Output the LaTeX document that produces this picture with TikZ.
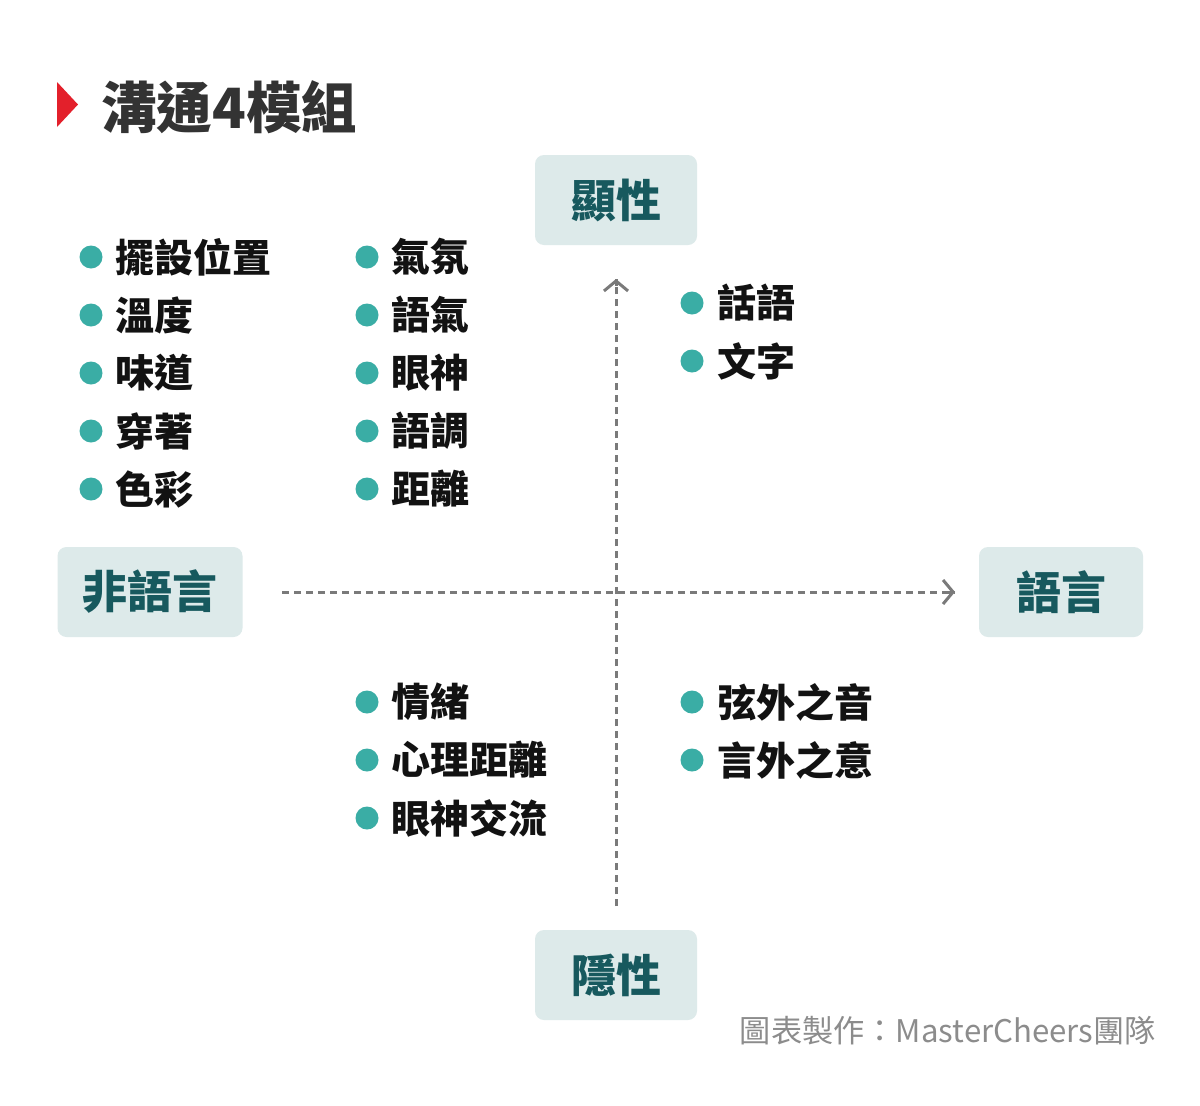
\documentclass[tikz,border=0pt]{standalone}
\usepackage{fontspec}
\setmainfont{Noto Sans CJK TC}
\usetikzlibrary{arrows.meta,calc}
\definecolor{boxfill}{HTML}{DDEAEA}
\definecolor{boxtext}{HTML}{17595E}
\definecolor{dotc}{HTML}{3AADA5}
\definecolor{axisc}{HTML}{7A7A7A}
\definecolor{titlec}{HTML}{333333}
\definecolor{creditc}{HTML}{8C8C8C}
\definecolor{redc}{HTML}{E3202B}
\tikzset{
  axisbox/.style={fill=boxfill, rounded corners=9pt, minimum width=162pt, minimum height=90pt, inner sep=0pt,
     text=boxtext, font=\fontsize{45}{50}\selectfont\bfseries},
  itemtxt/.style={anchor=west, inner sep=0pt, text=black!93, font=\fontsize{39}{44}\selectfont\bfseries},
  dot/.style={circle, fill=dotc, minimum size=23pt, inner sep=0pt},
  axisline/.style={draw=axisc, line width=3pt, dash pattern=on 7pt off 5pt},
}
\begin{document}
\begin{tikzpicture}[x=1pt,y=-1pt]
\useasboundingbox (0,0) rectangle (1200,1106);
\fill[white] (0,0) rectangle (1200,1106);
% title
\fill[redc] (57,82) -- (78,104.5) -- (57,127) -- cycle;
\node[anchor=west, inner sep=0pt, text=titlec, font=\fontsize{55.5}{60}\selectfont\bfseries] (title) at (101,107) {溝通4模組};
% axes
\coordinate (vtop) at (616,279);
\coordinate (vbot) at (616,906);
\coordinate (hl) at (282,592);
\coordinate (hr) at (955,592);
\draw[axisline] (vbot) -- (vtop);
\draw[axisline] (hl) -- (hr);
\draw[axisc, line width=3pt, {Straight Barb[length=10pt,width=24pt]}-] (vtop) -- ++(0,7);
\draw[axisc, line width=3pt, -{Straight Barb[length=10pt,width=24pt]}] ($(hr)+(-7,0)$) -- (hr);
% axis boxes
\node[axisbox, minimum width=162pt] (top) at (616,200) {顯性};
\node[axisbox, minimum width=162pt] (bot) at (616,975) {隱性};
\node[axisbox, minimum width=185pt] (left) at (150,592) {非語言};
\node[axisbox, minimum width=164pt] (right) at (1061,592) {語言};
% column 1
\foreach \t [count=\i] in {擺設位置,溫度,味道,穿著,色彩}{
  \node[dot] (d1\i) at (91,{257+58*(\i-1)}) {};
  \node[itemtxt] (t1\i) at (115,{257+58*(\i-1)}) {\t};
}
% column 2
\foreach \t [count=\i] in {氣氛,語氣,眼神,語調,距離}{
  \node[dot] (d2\i) at (367,{257+58*(\i-1)}) {};
  \node[itemtxt] (t2\i) at (391,{257+58*(\i-1)}) {\t};
}
% upper right
\foreach \t [count=\i] in {話語,文字}{
  \node[dot] (d3\i) at (692,{303+58*(\i-1)}) {};
  \node[itemtxt] (t3\i) at (717,{303+58*(\i-1)}) {\t};
}
% lower middle
\foreach \t [count=\i] in {情緒,心理距離,眼神交流}{
  \node[dot] (d4\i) at (367,{702+58*(\i-1)}) {};
  \node[itemtxt] (t4\i) at (391,{702+58*(\i-1)}) {\t};
}
% lower right
\foreach \t [count=\i] in {弦外之音,言外之意}{
  \node[dot] (d5\i) at (692,{702+58*(\i-1)}) {};
  \node[itemtxt] (t5\i) at (717,{702+58*(\i-1)}) {\t};
}
% credit
\node[anchor=east, inner sep=0pt, text=creditc, font=\fontsize{31.2}{34}\selectfont] (credit) at (1156,1031) {圖表製作：MasterCheers團隊};
\end{tikzpicture}
\end{document}
